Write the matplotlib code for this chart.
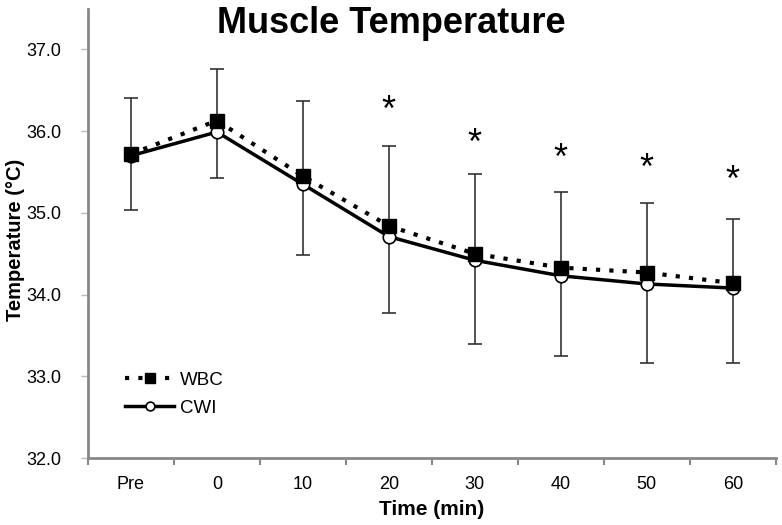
import matplotlib.pyplot as plt
import numpy as np

plt.rcParams['font.family'] = ['Liberation Sans', 'DejaVu Sans']

labels = ['Pre', '0', '10', '20', '30', '40', '50', '60']
wbc = [35.72, 36.13, 35.45, 34.84, 34.50, 34.33, 34.27, 34.14]
cwi = [35.70, 35.99, 35.35, 34.71, 34.42, 34.23, 34.13, 34.08]
err_hi = [36.40, 36.76, 36.37, 35.82, 35.47, 35.25, 35.12, 34.92]
err_lo = [35.03, 35.43, 34.48, 33.78, 33.40, 33.25, 33.16, 33.16]
star_y = [None, None, None, 36.24, 35.84, 35.66, 35.53, 35.38]

x = np.arange(len(labels))
hi = np.array(err_hi)
lo = np.array(err_lo)

fig = plt.figure(figsize=(7.82, 5.25), dpi=100)
ax = fig.add_axes([0.1125, 0.1276, 0.8795, 0.856])

# error bars (shared for both groups)
ax.errorbar(x, (hi + lo) / 2, yerr=(hi - lo) / 2, fmt='none', ecolor='#333333',
            elinewidth=1.2, capsize=5, capthick=1.2, zorder=1)

ax.plot(x, wbc, linestyle=(0, (1, 2.2)), color='black', linewidth=3,
        marker='s', markersize=10, markerfacecolor='black', label='WBC', zorder=3)
ax.plot(x, cwi, linestyle='-', color='black', linewidth=2.5,
        marker='o', markersize=9, markerfacecolor='white', markeredgewidth=1.2,
        label='CWI', zorder=2)

for xi, sy in zip(x, star_y):
    if sy is not None:
        ax.text(xi, sy, '*', ha='center', va='center', fontsize=26)

ax.set_xlim(-0.5, 7.5)
ax.set_ylim(32, 37.5)
ax.set_yticks([32, 33, 34, 35, 36, 37])
ax.set_yticklabels(['%.1f' % v for v in [32, 33, 34, 35, 36, 37]], fontsize=13)
ax.set_xticks(x)
ax.set_xticklabels(labels, fontsize=13)
ax.set_xticks(np.arange(-0.5, 8, 1), minor=True)
ax.tick_params(axis='x', which='major', length=0, pad=13)
ax.tick_params(axis='x', which='minor', length=5, color='#888888', width=1.5)
ax.tick_params(axis='y', length=5, color='#bbbbbb', width=1, pad=14)

for s in ['top', 'right']:
    ax.spines[s].set_visible(False)
for s in ['left', 'bottom']:
    ax.spines[s].set_color('#888888')
    ax.spines[s].set_linewidth(2)

ax.set_xlabel('Time (min)', fontsize=15, fontweight='bold', labelpad=5)
fig.text(16 / 782, 0.543, 'Temperature (\u00b0C)', rotation=90, ha='center',
         va='center', fontsize=14.5, fontweight='bold')
fig.text(0.5, 0.955, 'Muscle Temperature', ha='center', va='center',
         fontsize=26, fontweight='bold')

ax.legend(loc='upper left', bbox_to_anchor=(0.03, 0.23), frameon=False,
          fontsize=13.5, handlelength=2.6, handletextpad=0.3, labelspacing=0.6,
          markerscale=0.7)

fig.savefig('out.png', dpi=100)
